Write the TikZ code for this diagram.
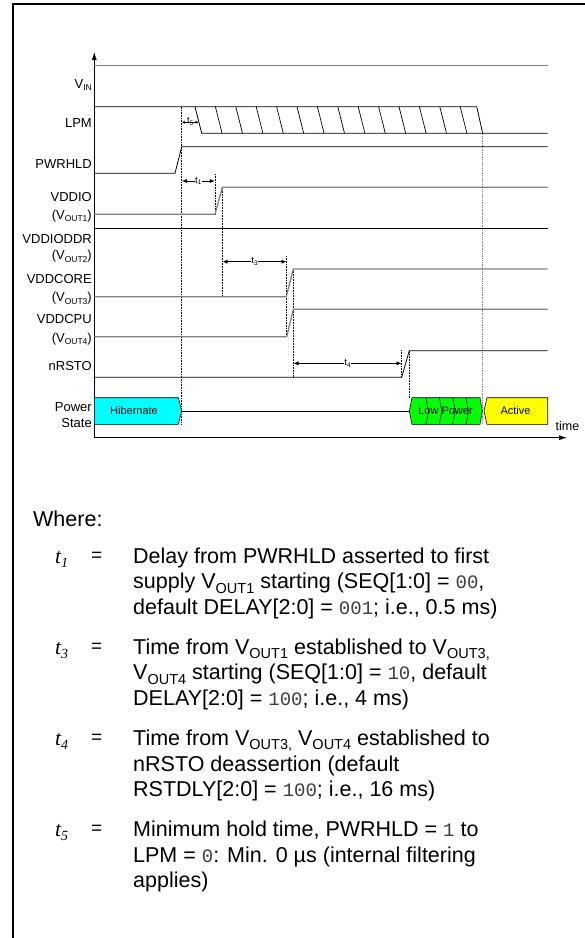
\documentclass[tikz,border=0pt]{standalone}
\usepackage{fontspec}
\setmainfont{Liberation Sans}
\newfontfamily\monof{Liberation Mono}
\newfontfamily\serf{Liberation Serif}
\usetikzlibrary{arrows.meta}
\definecolor{sgray}{RGB}{128,128,128}
\definecolor{hcyan}{RGB}{0,255,255}
\definecolor{hgreen}{RGB}{0,255,0}
\definecolor{hyellow}{RGB}{255,255,0}
\definecolor{monogray}{RGB}{60,60,60}
\newcommand{\lsub}[1]{\raisebox{-2.5pt}{\fontsize{8.5}{8.5}\selectfont #1}}
\newcommand{\tsub}[1]{\raisebox{-4.5pt}{\fontsize{14.5}{14.5}\selectfont #1}}
\newcommand{\mono}[1]{{\monof\fontsize{19}{19}\selectfont\color{monogray}#1}}
\newcommand{\tlab}[1]{{\serf\itshape t\raisebox{-4pt}{\fontsize{14}{14}\selectfont #1}}}
\newcommand{\dimtext}[1]{t\raisebox{-1.5pt}{\fontsize{6.5}{6.5}\selectfont #1}}
\begin{document}
\begin{tikzpicture}[x=1pt,y=-1pt,
  sig/.style={line width=0.8pt},
  gsig/.style={line width=1.3pt,draw=sgray},
  dots/.style={densely dotted,line width=0.6pt},
  gdots/.style={densely dotted,line width=1.3pt,draw=sgray},
  lab/.style={anchor=base east,inner sep=0pt,font=\fontsize{13}{13}\selectfont},
  txt/.style={anchor=base west,inner sep=0pt,font=\fontsize{21.5}{21.5}\selectfont},
  eq/.style={inner sep=0pt,font=\fontsize{19}{19}\selectfont},
  dimarr/.style={{Latex[length=5pt,width=4pt]}-{Latex[length=5pt,width=4pt]},line width=0.6pt},
  dimarrs/.style={{Latex[length=3pt,width=3pt]}-{Latex[length=3pt,width=3pt]},line width=0.5pt},
  dimlab/.style={fill=white,inner sep=0.6pt,font=\fontsize{9.5}{9.5}\selectfont},
  statebox/.style={draw=black,line width=0.6pt},
  stext/.style={font=\fontsize{11}{11}\selectfont,inner sep=0pt}]

\useasboundingbox (0,0) rectangle (585,938);
\fill[white] (0,0) rectangle (585,938);
% frame
\draw[line width=2.5pt] (13,940) -- (13,4) -- (587,4);

% axes
\coordinate (O) at (94.3,437.7);
\coordinate (Ytop) at (94.3,52);
\coordinate (Xend) at (567,437.7);
\draw[line width=0.8pt,-{Latex[length=8pt,width=5pt]}] (O) -- (Ytop);
\draw[line width=0.8pt,-{Latex[length=8pt,width=5pt]}] (O) -- (Xend);
\node[stext,font=\fontsize{12.5}{12.5}\selectfont] (timelab) at (567.5,426.5) {time};

% dotted guides
\draw[dots] (181.7,106.7) -- (181.7,424.3);
\draw[dots] (215,174) -- (215,214.3);
\draw[dots] (222.3,187.3) -- (222.3,296.7);
\draw[dots] (286.7,256) -- (286.7,336.7);
\draw[dots] (293.3,269) -- (293.3,377.3);
\draw[dots] (401.7,350) -- (401.7,377.3);
\draw[dots] (409.3,350.7) -- (409.3,397.7);
\draw[gdots] (482.7,133.3) -- (482.7,424.3);

% VIN
\draw[gsig] (94.3,65.7) -- (547.7,65.7);
% LPM
\draw[sig] (94.3,106.7) -- (476.7,106.7) -- (482.7,133.3) -- (547.7,133.3);
\draw[sig] (195,106.7) -- (201.7,133.3) -- (482.7,133.3);
\foreach \k in {1,...,13} {\draw[line width=0.7pt] ({195+20.4*\k},106.7) -- ({201.7+20.4*\k},133.3);}
% PWRHLD
\draw[sig] (94.3,173.3) -- (175,173.3) -- (181.7,146.7) -- (547.7,146.7);
% VDDIO
\draw[gsig] (94.3,214.3) -- (215,214.3) -- (222.3,187.3) -- (547.7,187.3);
% VDDIODDR
\draw[sig] (94.3,228.3) -- (547.7,228.3);
% VDDCORE
\draw[gsig] (94.3,296.7) -- (286.3,296.7) -- (293.3,269) -- (547.7,269);
% VDDCPU
\draw[gsig] (94.3,336.7) -- (286.7,336.7) -- (293.3,309.3) -- (547.7,309.3);
% nRSTO
\draw[sig] (94.3,377.3) -- (401.7,377.3) -- (409.3,350.7) -- (547.7,350.7);

% power states
\draw[statebox,fill=hcyan] (94.3,397.7) -- (178.3,397.7) -- (181.7,411) -- (178.3,424.3) -- (94.3,424.3) -- cycle;
\draw[sig] (181.7,411) -- (409.3,411);
\draw[statebox,fill=hgreen] (409.3,411) -- (412,397.7) -- (480,397.7) -- (482.3,411) -- (480,424.3) -- (412,424.3) -- cycle;
\foreach \x in {426,439.3,452.7,466} {\draw[line width=0.6pt] (\x,397.7) -- (\x+2.5,411) -- (\x,424.3);}
\draw[statebox,fill=hyellow] (484,411) -- (487,397.7) -- (547.7,397.7) -- (547.7,424.3) -- (487,424.3) -- cycle;
\node[stext] (hib) at (134,411) {Hibernate};
\node[stext] (lowp) at (445.5,411) {Low Power};
\node[stext] (act) at (515.5,411) {Active};

% dimension arrows
\draw[dimarrs] (181.9,122.3) -- (198.6,122.3);
\node[dimlab,fill=none,inner sep=0pt] (t5) at (190.2,121.5) {\dimtext{5}};
\draw[dimarr] (181.9,181) -- (214.8,181);
\node[dimlab] (t1) at (198.3,181) {\dimtext{1}};
\draw[dimarr] (222.5,261.7) -- (286.5,261.7);
\node[dimlab] (t3) at (254.5,261.7) {\dimtext{3}};
\draw[dimarr] (293.5,363.3) -- (401.5,363.3);
\node[dimlab] (t4) at (347.5,363.3) {\dimtext{4}};

% left labels
\node[lab] (lvin) at (92,88) {V\lsub{IN}};
\node[lab] (llpm) at (92,127) {LPM};
\node[lab] (lpwr) at (92,168) {PWRHLD};
\node[lab] (lio) at (92,201.7) {VDDIO};
\node[lab] (lio2) at (92,219) {(V\lsub{OUT1})};
\node[lab] (lddr) at (92,243) {VDDIODDR};
\node[lab] (lddr2) at (92,259.5) {(V\lsub{OUT2})};
\node[lab] (lcore) at (92,283) {VDDCORE};
\node[lab] (lcore2) at (92,301.5) {(V\lsub{OUT3})};
\node[lab] (lcpu) at (92,323) {VDDCPU};
\node[lab] (lcpu2) at (92,342) {(V\lsub{OUT4})};
\node[lab] (lrst) at (92,370.5) {nRSTO};
\node[lab] (lps) at (92,411.5) {Power};
\node[lab] (lps2) at (92,427) {State};

% legend text
\node[txt] (where) at (33,526) {Where:};
\node[txt] (k1) at (55,563) {\tlab{1}};
\node[eq] (e1) at (96.7,556.5) {=};
\node[txt] (a1) at (133,563) {Delay from PWRHLD asserted to first};
\node[txt] (a2) at (133,588.8) {supply V\tsub{OUT1} starting (SEQ[1:0] = \mono{00},};
\node[txt] (a3) at (133,614.6) {default DELAY[2:0] = \mono{001}; i.e., 0.5 ms)};
\node[txt] (k3) at (55,654.1) {\tlab{3}};
\node[eq] (e3) at (96.7,647.6) {=};
\node[txt] (b1) at (133,654.1) {Time from V\tsub{OUT1} established to V\tsub{OUT3,}};
\node[txt] (b2) at (133,679.9) {V\tsub{OUT4} starting (SEQ[1:0] = \mono{10}, default};
\node[txt] (b3) at (133,705.7) {DELAY[2:0] = \mono{100}; i.e., 4 ms)};
\node[txt] (k4) at (55,745.2) {\tlab{4}};
\node[eq] (e4) at (96.7,738.7) {=};
\node[txt] (c1) at (133,745.2) {Time from V\tsub{OUT3,} V\tsub{OUT4} established to};
\node[txt] (c2) at (133,771) {nRSTO deassertion (default};
\node[txt] (c3) at (133,796.8) {RSTDLY[2:0] = \mono{100}; i.e., 16 ms)};
\node[txt] (k5) at (55,836.3) {\tlab{5}};
\node[eq] (e5) at (96.7,829.8) {=};
\node[txt] (d1) at (133,836.3) {Minimum hold time, PWRHLD = \mono{1} to};
\node[txt] (d2) at (133,862.1) {LPM = \mono{0}: Min. 0 µs (internal filtering};
\node[txt] (d3) at (133,887.9) {applies)};
\end{tikzpicture}
\end{document}
